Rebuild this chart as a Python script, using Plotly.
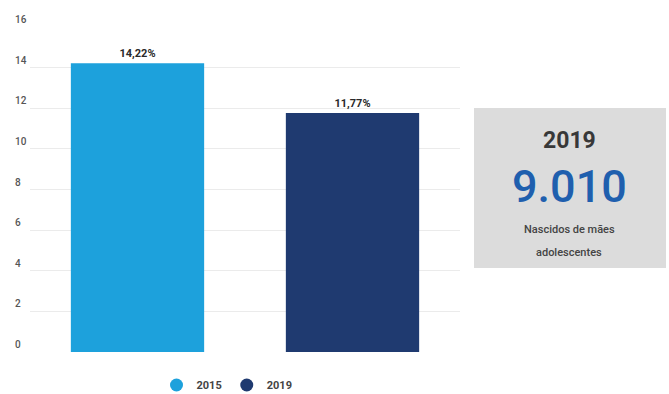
import plotly.graph_objects as go

years = ["2015", "2019"]
values = [14.22, 11.77]
labels = ["14,22%", "11,77%"]
colors = ["#1DA1DC", "#1F3A70"]
y_ticks = [0, 2, 4, 6, 8, 10, 12, 14, 16]
box_year = "2019"
box_value = "9.010"
box_caption = ["Nascidos de mães", "adolescentes"]

fig = go.Figure()
fig.add_trace(go.Bar(
    x=years, y=values, marker=dict(color=colors, line=dict(width=0)),
    text=labels, textposition="outside", cliponaxis=False,
    textfont=dict(family="Roboto", size=11, color="#2a2a2a", weight="bold"),
    showlegend=False, hoverinfo="skip", width=0.62,
))
for yr, c in zip(years, colors):
    fig.add_trace(go.Scatter(
        x=[None], y=[None], mode="markers", name=yr,
        marker=dict(symbol="circle", size=13, color=c),
    ))

L, R = 30, 460
T, B = 27, 352
W, H = 669, 394

def px(x):
    return (x - L) / (R - L)

def py(y):
    return (B - y) / (B - T)

# y tick labels, left-aligned above gridlines
for v in y_ticks:
    fig.add_annotation(xref="paper", yref="y", x=px(13), y=v, text=str(v),
                       xanchor="left", yanchor="bottom", yshift=0, showarrow=False,
                       font=dict(family="Roboto", size=10, color="#555555", weight=500))

fig.add_shape(type="rect", xref="paper", yref="paper",
              x0=px(474), x1=px(666), y0=py(268), y1=py(108),
              fillcolor="#DCDCDC", line=dict(width=0), layer="below")
cx = px(569)
fig.add_annotation(xref="paper", yref="paper", x=cx, y=py(140), text=box_year,
                   xanchor="center", yanchor="middle",
                   showarrow=False, font=dict(family="Roboto", size=23, color="#383838", weight="bold"))
fig.add_annotation(xref="paper", yref="paper", x=cx, y=py(186), text=box_value,
                   xanchor="center", yanchor="middle",
                   showarrow=False, font=dict(family="Roboto", size=45, color="#1F5FAE", weight=500))
for txt, yy in zip(box_caption, [229, 252]):
    fig.add_annotation(xref="paper", yref="paper", x=cx, y=py(yy), text=txt,
                       xanchor="center", yanchor="middle",
                       showarrow=False, font=dict(family="Roboto", size=11, color="#444444", weight=500))

fig.update_layout(
    width=W, height=H,
    margin=dict(l=L, r=W - R, t=T, b=H - B, autoexpand=False),
    paper_bgcolor="white", plot_bgcolor="white",
    bargap=0.38,
    xaxis=dict(showticklabels=False, showgrid=False, zeroline=False, showline=False, ticks=""),
    yaxis=dict(range=[0, 16], tickvals=y_ticks, showgrid=True, gridcolor="#EBEBEB", gridwidth=1,
               zeroline=False, showline=False, ticks="", showticklabels=False),
    legend=dict(orientation="h", x=px(227), xanchor="center", y=py(385), yanchor="middle",
                font=dict(family="Roboto", size=11, color="#444444", weight="bold"),
                itemwidth=30, tracegroupgap=0),
)
fig.write_html("out.html")
